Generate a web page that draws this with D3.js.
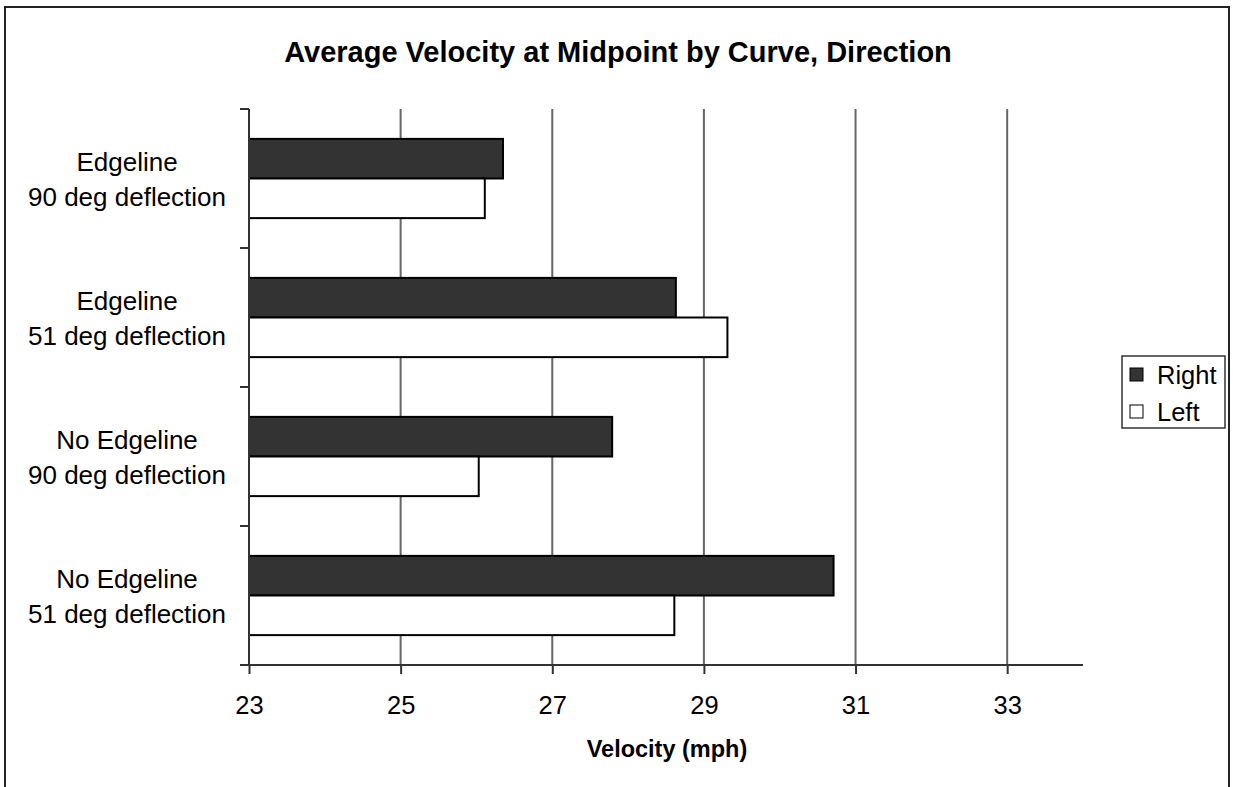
<!DOCTYPE html>
<html>
<head>
<meta charset="utf-8">
<script src="https://cdn.jsdelivr.net/npm/d3@7"></script>
<style>
    body { margin: 0; background: #fff; }
    text { font-family: "Liberation Sans", Arial, sans-serif; fill: #000; }
</style>
</head>
<body>
<svg width="1233" height="787"></svg>
<script>
/* Chart data */
var categories = [
    ["Edgeline", "90 deg deflection"],
    ["Edgeline", "51 deg deflection"],
    ["No Edgeline", "90 deg deflection"],
    ["No Edgeline", "51 deg deflection"]
];
var seriesNames = ["Right", "Left"];
var rightValues = [26.35, 28.63, 27.79, 30.71];
var leftValues = [26.11, 29.31, 26.03, 28.61];
var xTicks = [23, 25, 27, 29, 31, 33];
var xDomain = [23, 34];
var colors = {"Right": "#333333", "Left": "#ffffff"};

var data = categories.map(function (c, i) {
    return {key: i, label: c, Right: rightValues[i], Left: leftValues[i]};
});

var svg = d3.select("svg");

/* outer border */
svg.append("rect")
    .attr("x", 5).attr("y", 7)
    .attr("width", 1224).attr("height", 800)
    .attr("fill", "none")
    .attr("stroke", "#222")
    .attr("stroke-width", 2);

var plotLeft = 249, plotRight = 1083, plotTop = 109, plotBottom = 665;

var x = d3.scaleLinear().domain(xDomain).range([plotLeft, plotRight]);
var y0 = d3.scaleBand().domain(data.map(function (d) { return d.key; }))
    .range([plotTop, plotBottom])
    .paddingInner(0.43)
    .paddingOuter(0.215);
var y1 = d3.scaleBand().domain(seriesNames).range([0, y0.bandwidth()]);

/* title */
svg.append("text")
    .attr("x", 618).attr("y", 62)
    .attr("text-anchor", "middle")
    .style("font-size", "29px")
    .style("font-weight", "bold")
    .text("Average Velocity at Midpoint by Curve, Direction");

/* vertical gridlines */
svg.append("g")
    .selectAll("line")
    .data(xTicks.slice(1))
    .enter().append("line")
    .attr("x1", function (d) { return x(d); })
    .attr("x2", function (d) { return x(d); })
    .attr("y1", plotTop).attr("y2", plotBottom)
    .attr("stroke", "#666")
    .attr("stroke-width", 2);

/* bars */
var groups = svg.append("g")
    .selectAll("g")
    .data(data)
    .enter().append("g")
    .attr("transform", function (d) { return "translate(0," + y0(d.key) + ")"; });

groups.selectAll("rect")
    .data(function (d) {
        return seriesNames.map(function (s) { return {series: s, value: d[s]}; });
    })
    .enter().append("rect")
    .attr("x", x(xDomain[0]))
    .attr("y", function (d) { return y1(d.series); })
    .attr("width", function (d) { return x(d.value) - x(xDomain[0]); })
    .attr("height", y1.bandwidth())
    .attr("fill", function (d) { return colors[d.series]; })
    .attr("stroke", "#000")
    .attr("stroke-width", 2);

/* x axis */
var xAxis = svg.append("g")
    .attr("transform", "translate(0," + plotBottom + ")")
    .call(d3.axisBottom(x).tickValues(xTicks).tickSize(9).tickPadding(22).tickSizeOuter(0));
xAxis.select(".domain").remove();
xAxis.append("line")
    .attr("x1", plotLeft - 9).attr("x2", plotRight)
    .attr("stroke", "#333").attr("stroke-width", 2);
xAxis.selectAll(".tick line").attr("stroke", "#333").attr("stroke-width", 2);
xAxis.selectAll(".tick text")
    .style("font-family", "'Liberation Sans', Arial, sans-serif")
    .style("font-size", "25.5px")
    .attr("fill", "#000");

/* y axis: band boundaries as ticks */
var yAxis = svg.append("g");
yAxis.append("line")
    .attr("x1", plotLeft).attr("x2", plotLeft)
    .attr("y1", plotTop).attr("y2", plotBottom)
    .attr("stroke", "#333").attr("stroke-width", 2);
var bounds = data.map(function (d) { return y0(d.key) - y0.step() * y0.paddingOuter(); });
bounds.push(plotBottom);
yAxis.selectAll(".btick")
    .data(bounds)
    .enter().append("line")
    .attr("class", "btick")
    .attr("x1", plotLeft - 9).attr("x2", plotLeft)
    .attr("y1", function (d) { return d; })
    .attr("y2", function (d) { return d; })
    .attr("stroke", "#333").attr("stroke-width", 2);

/* category labels */
var labels = svg.append("g")
    .selectAll("text")
    .data(data)
    .enter().append("text")
    .attr("text-anchor", "middle")
    .style("font-size", "26px")
    .attr("transform", function (d) {
        return "translate(127," + (y0(d.key) + y0.bandwidth() / 2) + ")";
    });
labels.append("tspan").attr("x", 0).attr("y", -8).text(function (d) { return d.label[0]; });
labels.append("tspan").attr("x", 0).attr("y", 27).text(function (d) { return d.label[1]; });

/* x axis title */
svg.append("text")
    .attr("x", 667).attr("y", 757)
    .attr("text-anchor", "middle")
    .style("font-size", "23.5px")
    .style("font-weight", "bold")
    .text("Velocity (mph)");

/* legend */
var legend = svg.append("g").attr("transform", "translate(1122,356)");
legend.append("rect")
    .attr("width", 103).attr("height", 72)
    .attr("fill", "#fff")
    .attr("stroke", "#333")
    .attr("stroke-width", 1.5);
var items = legend.selectAll(".item")
    .data(seriesNames)
    .enter().append("g")
    .attr("class", "item")
    .attr("transform", function (d, i) { return "translate(0," + (12 + i * 37) + ")"; });
items.append("rect")
    .attr("x", 8).attr("y", 0)
    .attr("width", 13).attr("height", 13)
    .attr("fill", function (d) { return colors[d]; })
    .attr("stroke", "#000")
    .attr("stroke-width", 1);
items.append("text")
    .attr("x", 35).attr("y", 16)
    .style("font-size", "25.5px")
    .text(function (d) { return d; });
</script>
</body>
</html>
